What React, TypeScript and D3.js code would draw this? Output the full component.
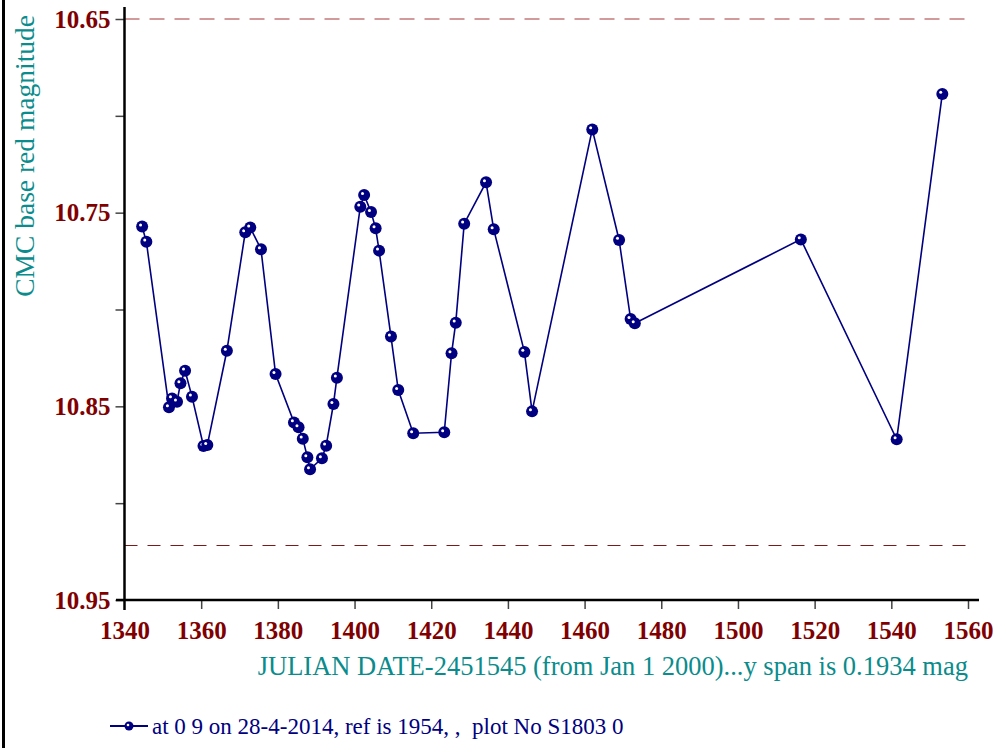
import React, { useRef, useEffect } from 'react';
import * as d3 from 'd3';

// days after JD 2451545
const jd: number[] = [
    1344.6, 1345.7, 1351.6, 1352.4, 1353.7, 1354.6, 1355.8, 1357.6, 1360.6, 1361.6,
    1366.7, 1371.5, 1372.8, 1375.6, 1379.4, 1384.2, 1385.4, 1386.5, 1387.7, 1388.4,
    1391.5, 1392.6, 1394.5, 1395.4, 1401.5, 1402.5, 1404.3, 1405.5, 1406.4, 1409.5,
    1411.4, 1415.3, 1423.4, 1425.3, 1426.4, 1428.6, 1434.3, 1436.3, 1444.3, 1446.3,
    1462.0, 1469.0, 1472.0, 1473.1, 1516.4, 1541.4, 1553.3,
];
// CMC base red magnitude
const mag: number[] = [
    10.7572, 10.7650, 10.8505, 10.8459, 10.8476, 10.8381, 10.8316, 10.8450, 10.8705, 10.8700,
    10.8213, 10.7601, 10.7577, 10.7689, 10.8333, 10.8583, 10.8608, 10.8667, 10.8763, 10.8825,
    10.8768, 10.8703, 10.8488, 10.8352, 10.7469, 10.7409, 10.7497, 10.7581, 10.7696, 10.8140,
    10.8416, 10.8639, 10.8634, 10.8226, 10.8068, 10.7557, 10.7343, 10.7586, 10.8219, 10.8526,
    10.7070, 10.7641, 10.8049, 10.8071, 10.7638, 10.8670, 10.6887,
];

const xTicks: number[] = [1340, 1360, 1380, 1400, 1420, 1440, 1460, 1480, 1500, 1520, 1540, 1560];
const yMajor: number[] = [10.65, 10.75, 10.85, 10.95];
const yMinor: number[] = [10.70, 10.80, 10.90];
const upperRef = 10.65;
const lowerRef = 10.9216;

const yTitle = 'CMC base red magnitude';
const xTitle = 'JULIAN DATE-2451545 (from Jan 1 2000)...y span is 0.1934 mag';
const legendText = 'at 0 9 on 28-4-2014, ref is 1954, ,  plot No S1803 0';

const W = 998, H = 748;
const RED = '#800000';
const TEAL = '#0a8c8c';
const NAVY = '#000080';
const FONT = '"Liberation Serif", "Times New Roman", serif';

function App() {
    const gx = useRef<SVGGElement>(null);
    const gy = useRef<SVGGElement>(null);
    const gyMinor = useRef<SVGGElement>(null);

    const x = d3.scaleLinear().domain([1340, 1560]).range([124.5, 968]);
    const y = d3.scaleLinear().domain([10.65, 10.95]).range([19, 600]);

    const pts = jd.map((d, i) => [d, mag[i]] as [number, number]);
    const line = d3.line<[number, number]>().x(d => x(d[0])).y(d => y(d[1]));

    useEffect(() => {
        if (gx.current) {
            const ax = d3.select(gx.current)
                .call(d3.axisBottom(x).tickValues(xTicks).tickSize(9).tickPadding(12).tickFormat(d3.format('d')));
            ax.select('.domain').remove();
            ax.selectAll('line').attr('stroke', '#444').attr('stroke-width', 1.5)
                .filter((d: any) => d === 1340).remove();
            ax.selectAll('text')
                .attr('fill', RED).attr('font-size', 25).attr('font-weight', 'bold')
                .attr('font-family', FONT);
        }
        if (gy.current) {
            const ay = d3.select(gy.current)
                .call(d3.axisLeft(y).tickValues(yMajor).tickSize(9).tickPadding(5).tickFormat(d3.format('.2f')));
            ay.select('.domain').remove();
            ay.selectAll('line').attr('stroke', '#444').attr('stroke-width', 1.5);
            ay.selectAll('text')
                .attr('fill', RED).attr('font-size', 25).attr('font-weight', 'bold')
                .attr('font-family', FONT);
        }
        if (gyMinor.current) {
            const am = d3.select(gyMinor.current)
                .call(d3.axisLeft(y).tickValues(yMinor).tickSize(9).tickFormat(() => ''));
            am.select('.domain').remove();
            am.selectAll('line').attr('stroke', '#444').attr('stroke-width', 1.5);
        }
    }, []);

    const yLow = Math.round(y(lowerRef)) + 0.5;

    return (
        <div style={{ position: 'absolute', left: 0, top: 0 }}>
            <svg width={W} height={H} style={{ display: 'block', background: '#fff' }} fontFamily={FONT}>
                <line x1={3.5} x2={3.5} y1={0} y2={H} stroke="#000" strokeWidth={3} />

                <line x1={x(1340)} x2={x(1560)} y1={y(upperRef)} y2={y(upperRef)}
                    stroke="#c47a7a" strokeWidth={1.5} strokeDasharray="15,10" />
                <line x1={x(1340)} x2={x(1560)} y1={yLow} y2={yLow}
                    stroke="#7a1a1a" strokeWidth={1} strokeDasharray="13,10" />

                <g ref={gx} transform={`translate(0,${y(10.95)})`} />
                <g ref={gy} transform={`translate(${x(1340)},0)`} />
                <g ref={gyMinor} transform={`translate(${x(1340)},0)`} />

                <line x1={x(1340)} x2={x(1340)} y1={7} y2={610} stroke="#000" strokeWidth={2.5} />
                <line x1={116} x2={979} y1={y(10.95)} y2={y(10.95)} stroke="#000" strokeWidth={2.5} />

                <path d={line(pts) ?? ''} fill="none" stroke={NAVY} strokeWidth={1.6} />
                {pts.map((p, i) => (
                    <g key={i} transform={`translate(${x(p[0])},${y(p[1])})`}>
                        <circle r={6} fill={NAVY} />
                        <circle cx={-1.6} cy={-1.6} r={1.5} fill="#fff" />
                    </g>
                ))}

                <text transform="translate(34,15) rotate(-90)" textAnchor="end"
                    fill={TEAL} fontSize={27.5}>{yTitle}</text>
                <text x={968} y={675} textAnchor="end" fill={TEAL} fontSize={26.5}>{xTitle}</text>

                <line x1={110} x2={148} y1={726} y2={726} stroke={NAVY} strokeWidth={2} />
                <circle cx={129} cy={726} r={4.5} fill={NAVY} />
                <circle cx={128} cy={725} r={1.3} fill="#fff" />
                <text x={152} y={734} fill={NAVY} fontSize={23} style={{ whiteSpace: 'pre' }}>{legendText}</text>
            </svg>
        </div>
    );
}

export default App;
